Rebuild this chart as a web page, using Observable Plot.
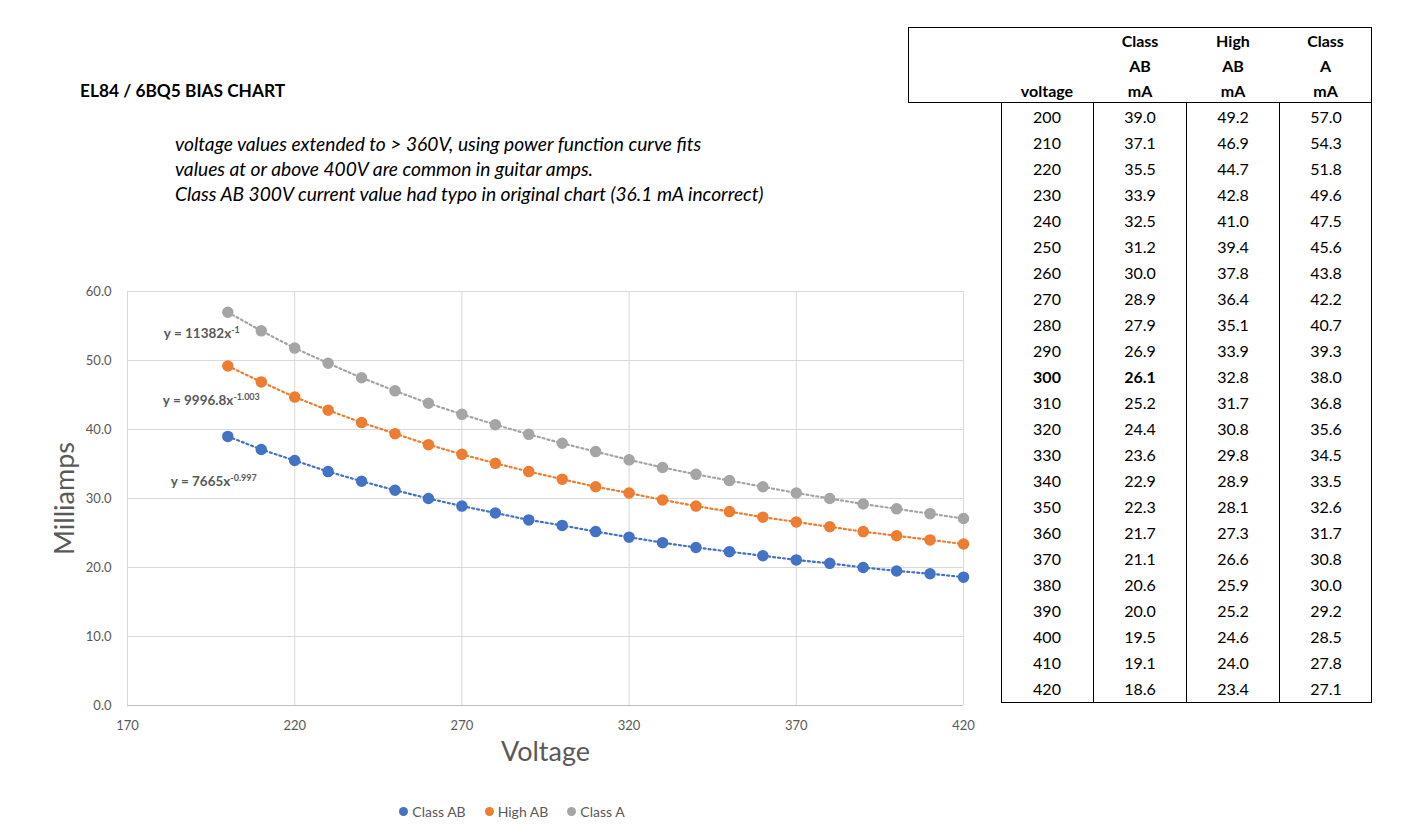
<!DOCTYPE html>
<html><head><meta charset="utf-8">
<script src="https://cdn.jsdelivr.net/npm/d3@7"></script>
<script src="https://cdn.jsdelivr.net/npm/@observablehq/plot@0.6"></script>
<style>
body{margin:0;background:#fff;font-family:Lato,"Open Sans",sans-serif;}
#wrap{position:relative;width:1411px;height:838px;overflow:hidden;background:#fff;}
.abs{position:absolute;}
#title{left:80px;top:80px;font-weight:bold;font-size:17.3px;color:#000;}
#notes{left:175px;top:131px;font-style:italic;font-size:19.2px;line-height:25px;color:#000;}
#chart{left:0;top:260px;}
#legend{left:0;width:1024px;top:803px;display:flex;justify-content:center;gap:19px;font-size:14px;color:#595959;}
#legend .it{display:flex;align-items:center;gap:4px;}
#legend .sw{width:9px;height:9px;border-radius:50%;}
#thead{left:908px;top:27px;width:464px;height:76px;border:1.5px solid #000;box-sizing:border-box;}
#tbody{left:1001px;top:102px;width:371px;height:601px;border:1.5px solid #000;border-top:none;box-sizing:border-box;}
.hc{position:absolute;text-align:center;font-weight:bold;font-size:16px;line-height:25.5px;color:#000;}
.vl{position:absolute;top:0;bottom:0;width:0;border-left:1.2px solid #000;}
.cell{position:absolute;text-align:center;font-size:16px;line-height:26px;height:26px;color:#000;}
</style></head><body><div id="wrap"></div>
<script>
// ---- data ----
const voltage = [200,210,220,230,240,250,260,270,280,290,300,310,320,330,340,350,360,370,380,390,400,410,420];
const classAB = [39.0,37.1,35.5,33.9,32.5,31.2,30.0,28.9,27.9,26.9,26.1,25.2,24.4,23.6,22.9,22.3,21.7,21.1,20.6,20.0,19.5,19.1,18.6];
const highAB  = [49.2,46.9,44.7,42.8,41.0,39.4,37.8,36.4,35.1,33.9,32.8,31.7,30.8,29.8,28.9,28.1,27.3,26.6,25.9,25.2,24.6,24.0,23.4];
const classA  = [57.0,54.3,51.8,49.6,47.5,45.6,43.8,42.2,40.7,39.3,38.0,36.8,35.6,34.5,33.5,32.6,31.7,30.8,30.0,29.2,28.5,27.8,27.1];
const seriesNames = ["Class AB","High AB","Class A"];
const seriesColors = ["#4472C4","#ED7D31","#A5A5A5"];
const xTicks = [170,220,270,320,370,420];
const yTicks = [0,10,20,30,40,50,60];
const equations = [
  {series:"Class A", base:"y = 11382x", exp:"-1"},
  {series:"High AB", base:"y = 9996.8x", exp:"-1.003"},
  {series:"Class AB", base:"y = 7665x", exp:"-0.997"}
];
const titleText = "EL84 / 6BQ5 BIAS CHART";
const noteLines = [
  "voltage values extended to > 360V, using power function curve fits",
  "values at or above 400V are common in guitar amps.",
  "Class AB 300V current value had typo in original chart (36.1 mA incorrect)"
];
const tableHeaders = [["","",""],["","","voltage"],["Class","AB","mA"],["High","AB","mA"],["Class","A","mA"]];
const boldVoltage = 300;

// ---- build ----
const wrap = document.getElementById("wrap");
const seriesValues = [classAB, highAB, classA];
const rows = seriesNames.flatMap((s,i) => voltage.map((v,j) => ({series:s, v, mA: seriesValues[i][j]})));

const t = document.createElement("div"); t.id="title"; t.className="abs"; t.textContent = titleText; wrap.appendChild(t);
const n = document.createElement("div"); n.id="notes"; n.className="abs";
noteLines.forEach(l => { const d=document.createElement("div"); d.textContent=l; n.appendChild(d); });
wrap.appendChild(n);

const firstOf = s => rows.filter(r => r.series===s).slice(0,1);
const eqOffsets = {"Class A":[-64,21], "High AB":[-65,35], "Class AB":[-57,45]};

const chart = Plot.plot({
  width: 1000, height: 540,
  marginLeft: 127, marginRight: 37, marginTop: 31, marginBottom: 95,
  style: {fontFamily:"Lato, 'Open Sans', sans-serif", fontSize:"13px", color:"#595959", background:"transparent"},
  x: {domain:[170,420]},
  y: {domain:[0,60]},
  color: {domain: seriesNames, range: seriesColors},
  marks: [
    Plot.gridX(xTicks, {stroke:"#d9d9d9", strokeOpacity:1, strokeWidth:1}),
    Plot.gridY(yTicks.filter(d => d>0), {stroke:"#d9d9d9", strokeOpacity:1, strokeWidth:1}),
    Plot.ruleY([0], {stroke:"#bfbfbf", strokeWidth:1.2}),
    Plot.axisX(xTicks, {tickSize:0, tickPadding:15, label:null, fill:"#595959"}),
    Plot.axisY(yTicks, {tickSize:0, tickPadding:16, label:null, tickFormat: d => d.toFixed(1), fill:"#595959"}),
    Plot.line(rows, {x:"v", y:"mA", z:"series", stroke:"series", strokeWidth:2.2, strokeDasharray:"2,3"}),
    Plot.dot(rows, {x:"v", y:"mA", fill:"series", stroke:"series", r:5}),
    Plot.text(["Voltage"], {frameAnchor:"bottom", dy:55, fontSize:27, fill:"#595959"}),
    Plot.text(["Milliamps"], {frameAnchor:"left", textAnchor:"middle", rotate:-90, dx:-62, fontSize:27, fill:"#595959"}),
    ...equations.map(e => Plot.text(firstOf(e.series), {
      x:"v", y:"mA", text: () => e.base, textAnchor:"start",
      dx: eqOffsets[e.series][0], dy: eqOffsets[e.series][1],
      fontSize:13.5, fontWeight:"bold", fill:"#595959"
    }))
  ]
});
d3.select(chart).selectAll("text").each(function(){
  const eq = equations.find(e => e.base === this.textContent);
  if (eq) d3.select(this).append("tspan").attr("dy","-0.55em").attr("font-size","9px").text(eq.exp);
});
chart.id = "chart"; chart.classList.add("abs");
wrap.appendChild(chart);

// legend
const lg = document.createElement("div"); lg.id="legend"; lg.className="abs";
seriesNames.forEach((s,i) => {
  const it = document.createElement("div"); it.className="it";
  const sw = document.createElement("span"); sw.className="sw"; sw.style.background = seriesColors[i];
  const tx = document.createElement("span"); tx.textContent = s;
  it.appendChild(sw); it.appendChild(tx); lg.appendChild(it);
});
wrap.appendChild(lg);

// table
const th = document.createElement("div"); th.id="thead"; th.className="abs";
const colW = [93,93,93,93,92];
let cx = 0;
tableHeaders.forEach((lines,ci) => {
  lines.forEach((l,li) => {
    const d = document.createElement("div"); d.className="hc";
    d.style.left = (cx-1.5)+"px"; d.style.width = colW[ci]+"px"; d.style.top = (li*25)+"px";
    d.textContent = l; th.appendChild(d);
  });
  cx += colW[ci];
});
wrap.appendChild(th);

const tb = document.createElement("div"); tb.id="tbody"; tb.className="abs";
[92.5,185.5,278.5].forEach(x => { const v=document.createElement("div"); v.className="vl"; v.style.left=(x-1.5)+"px"; tb.appendChild(v); });
const bodyCols = [voltage, classAB, highAB, classA];
voltage.forEach((v,ri) => {
  bodyCols.forEach((col,ci) => {
    const d = document.createElement("div"); d.className="cell";
    d.style.left = (ci*93-1.5)+"px"; d.style.width = "93px"; d.style.top = (2+ri*26)+"px";
    d.textContent = ci===0 ? String(col[ri]) : col[ri].toFixed(1);
    if (v===boldVoltage && ci<2) d.style.fontWeight = "bold";
    tb.appendChild(d);
  });
});
wrap.appendChild(tb);
</script></body></html>
